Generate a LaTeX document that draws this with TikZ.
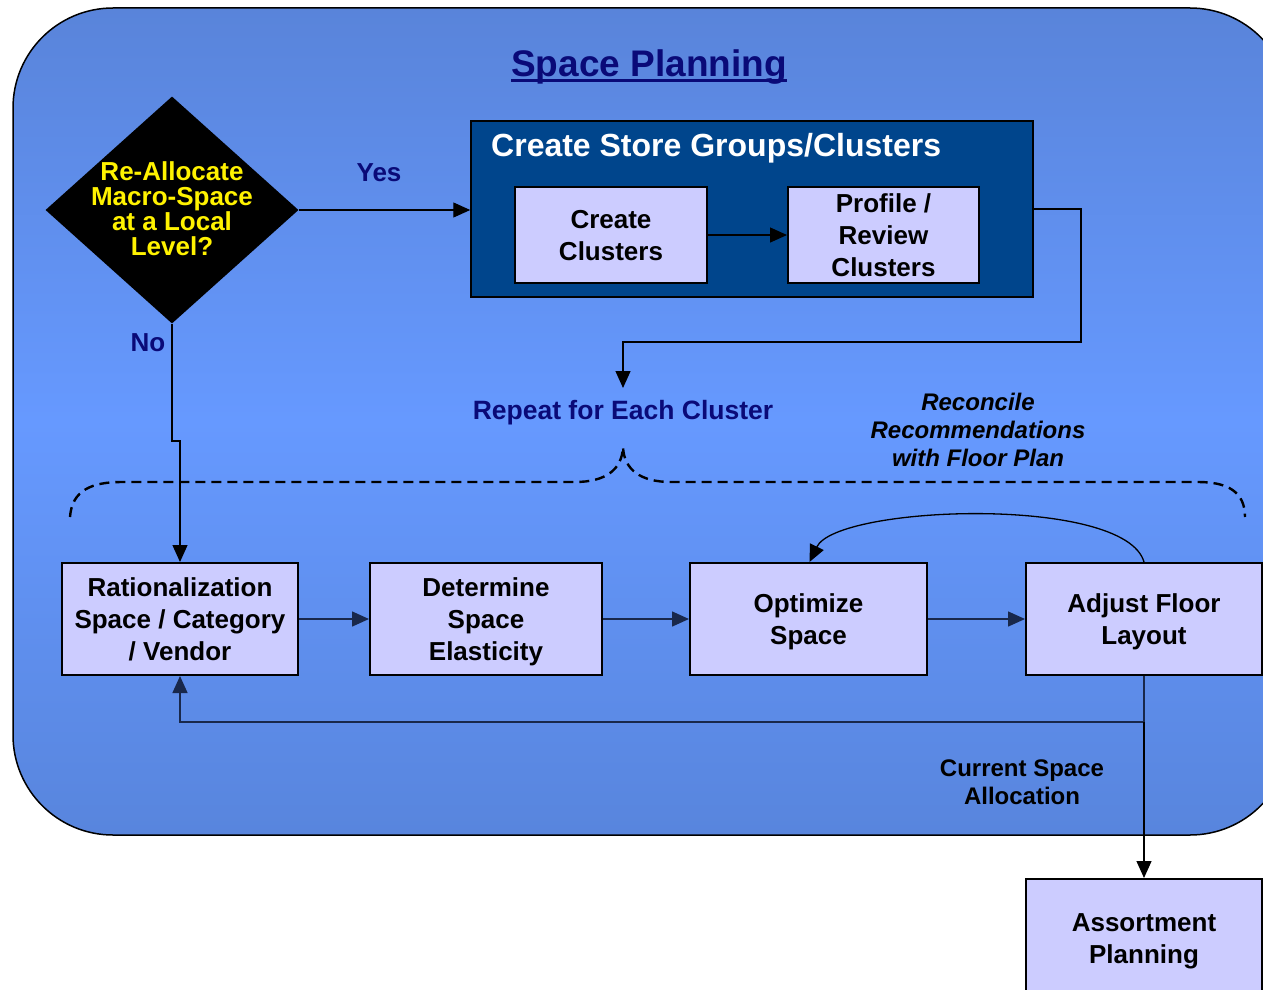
\documentclass[tikz,border=0pt]{standalone}
\usepackage{fontspec}
\setmainfont{Liberation Sans}
\usetikzlibrary{arrows.meta,shapes.geometric,calc}
\definecolor{bgtop}{RGB}{89,132,218}
\definecolor{bgmid}{RGB}{102,153,255}
\definecolor{bgbot}{RGB}{88,133,221}
\definecolor{storeblue}{RGB}{0,69,140}
\definecolor{boxfill}{RGB}{204,204,255}
\definecolor{navytext}{RGB}{10,10,120}
\definecolor{linecol}{RGB}{25,40,75}
\newcommand{\hstr}{\rule{0pt}{24pt}}
\newcommand{\dstr}{\rule[-5.5pt]{0pt}{5.5pt}}
\begin{document}
\begin{tikzpicture}[x=1pt,y=-1pt,
  lbox/.style={draw=black, line width=2pt, fill=boxfill, align=center, inner sep=0pt,
    text=black, font=\fontsize{26}{32}\selectfont\bfseries},
  tip/.style={-{Triangle[length=17pt,width=15pt]}},
  conn/.style={line width=1.5pt, draw=linecol},
  blk/.style={line width=1.3pt, draw=black},
  lab/.style={align=center, inner sep=0pt}
]
\useasboundingbox (0,0) rectangle (1263,990);
\clip (0,0) rectangle (1263,990);
% background
\shadedraw[rounded corners=100pt, top color=bgtop, bottom color=bgbot, middle color=bgmid,
  draw=black, line width=1.5pt] (13,8) rectangle (1290,835);
% title
\node[inner sep=0pt, text=navytext, font=\fontsize{37}{40}\selectfont\bfseries] (title) at (649,67) {Space Planning};
\draw[navytext, line width=2.6pt] ($(title.base west)+(0,4)$) -- ($(title.base east)+(0,4)$);
% decision
\node[diamond, fill=black, minimum width=253pt, minimum height=227pt, inner sep=0pt] (dec) at (172,210) {};
\node[lab, text=yellow, font=\fontsize{26}{25}\selectfont\bfseries] (dect) at (172,209) {Re-Allocate\\Macro-Space\\at a Local\\Level?};
% store groups
\node[draw=black, line width=1.5pt, fill=storeblue, minimum width=562pt, minimum height=176pt, inner sep=0pt] (store) at (752,209) {};
\node[lab, anchor=west, text=white, font=\fontsize{32}{34}\selectfont\bfseries] (storet) at (491,148) {Create Store Groups/Clusters};
\node[lbox, minimum width=192pt, minimum height=96pt] (cc) at (611,235) {\hstr Create\\Clusters\dstr};
\node[lbox, minimum width=191pt, minimum height=96pt] (pr) at (883.5,235) {\hstr Profile /\\Review\\Clusters\dstr};
% labels
\node[lab, text=navytext, font=\fontsize{26}{30}\selectfont\bfseries] (yes) at (379,173) {Yes};
\node[lab, text=navytext, font=\fontsize{26}{30}\selectfont\bfseries] (no) at (148,343) {No};
\node[lab, text=navytext, font=\fontsize{26.5}{30}\selectfont\bfseries] (rep) at (623,413) {Repeat for Each Cluster};
\node[lab, text=black, font=\fontsize{24}{28}\selectfont\bfseries\itshape] (rec) at (978,430) {Reconcile\\Recommendations\\with Floor Plan};
\node[lab, text=black, font=\fontsize{24}{28}\selectfont\bfseries] (csa) at (1022,782) {Current Space\\Allocation};
% bottom boxes
\node[lbox, minimum width=236pt, minimum height=112pt] (b1) at (180,619) {\hstr Rationalization\\Space / Category\\/ Vendor\dstr};
\node[lbox, minimum width=232pt, minimum height=112pt] (b2) at (486,619) {\hstr Determine\\Space\\Elasticity\dstr};
\node[lbox, minimum width=237pt, minimum height=112pt] (b3) at (808.5,619) {\hstr Optimize\\Space\dstr};
\node[lbox, minimum width=236pt, minimum height=112pt] (b4) at (1144,619) {\hstr Adjust Floor\\Layout\dstr};
\node[lbox, minimum width=236pt, minimum height=124pt] (ap) at (1144,941) {Assortment\\Planning};
% dashed brace
\draw[line width=2.4pt, dash pattern=on 10pt off 6pt] (70,517) .. controls (72,490) and (92,482) .. (122,482)
  -- (575,482) .. controls (605,482) and (622,470) .. (623,447)
  .. controls (624,470) and (641,482) .. (671,482) -- (1198,482)
  .. controls (1228,482) and (1245,492) .. (1245,517);
% connectors
\draw[blk, tip] (dec.east) -- (dec.east -| store.west);
\draw[blk, tip] (cc.east) -- (pr.west);
\coordinate (r1) at (1081,342);
\coordinate (r2) at (623,388);
\draw[blk, tip] (store.east) -| (r1) -| (r2);
\coordinate (nb) at (172,441);
\draw[blk, tip] (dec.south) -- (nb) -| (b1.north);
\draw[conn, tip] (b1.east) -- (b2.west);
\draw[conn, tip] (b2.east) -- (b3.west);
\draw[conn, tip] (b3.east) -- (b4.west);
\draw[blk, tip] (b4.north) .. controls (1125,495) and (837,505) .. ($(b3.north)+(1,0)$);
\coordinate (fb) at (1144,722);
\draw[conn, tip] (b4.south) -- (fb) -| (b1.south);
\draw[blk, tip] (fb) -- (ap.north);
\end{tikzpicture}
\end{document}
